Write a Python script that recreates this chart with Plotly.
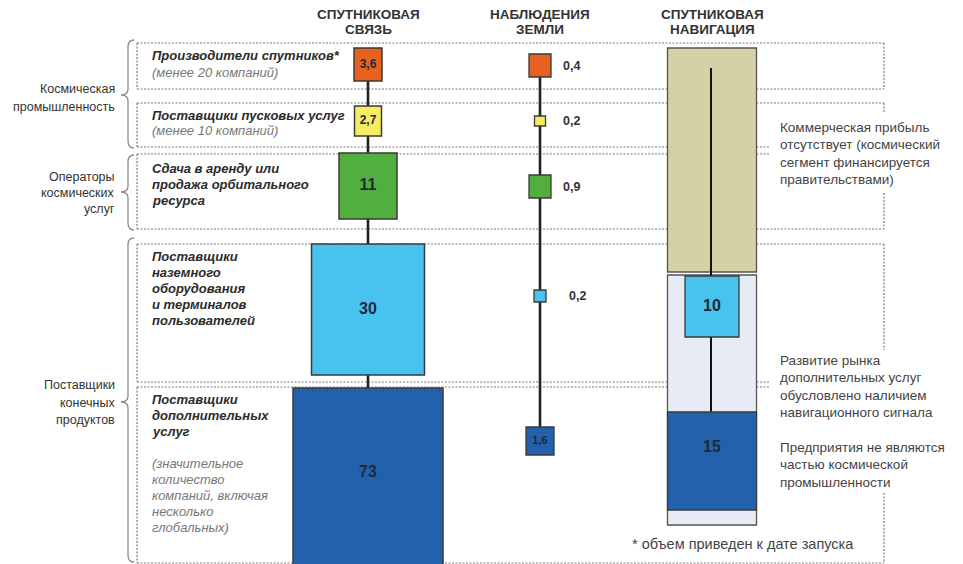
import plotly.graph_objects as go

# ---------------- data ----------------
columns = [["СПУТНИКОВАЯ", "СВЯЗЬ"], ["НАБЛЮДЕНИЯ", "ЗЕМЛИ"], ["СПУТНИКОВАЯ", "НАВИГАЦИЯ"]]
groups = [["Космическая", "промышленность"],
          ["Операторы", "космических", "услуг"],
          ["Поставщики", "конечных", "продуктов"]]
segments = [["Производители спутников*"],
            ["Поставщики пусковых услуг"],
            ["Сдача в аренду или", "продажа орбитального", "ресурса"],
            ["Поставщики", "наземного", "оборудования", "и терминалов", "пользователей"],
            ["Поставщики", "дополнительных", "услуг"]]
segment_notes = [["(менее 20 компаний)"],
                 ["(менее 10 компаний)"],
                 [],
                 [],
                 ["(значительное", "количество", "компаний, включая", "несколько", "глобальных)"]]
satcom = [3.6, 2.7, 11, 30, 73]
earth_obs = [0.4, 0.2, 0.9, 0.2, 1.6]
navigation = [None, None, None, 10, 15]
side_notes = [["Коммерческая прибыль", "отсутствует (космический", "сегмент финансируется", "правительствами)"],
              ["Развитие рынка", "дополнительных услуг", "обусловлено наличием", "навигационного сигнала"],
              ["Предприятия не являются", "частью космической", "промышленности"]]
footnote = "* объем приведен к дате запуска"

# ---------------- layout constants (pixel space) ----------------
W, H = 963, 564
col_x = [368, 540, 712]
seg_colors = ["#e8621f", "#f5ec62", "#52ae3f", "#48c2ef", "#2461ad"]
# (top, bottom, width) of each box
satcom_geom = [(48, 81, 28), (106, 136, 27), (153, 219, 58), (244, 375, 113), (388, 572, 150)]
eo_geom = [(54, 77, 22), (116, 126, 11), (175, 198, 22), (290, 302, 12), (427, 455, 28)]
nav_geom = [None, None, None, (276, 337, 54), (412, 510, 89)]
nav_bg = [((48, 272), "#d3d1a5"), ((275, 525), "#e6ebf4")]
nav_w = 89
row_frames = [(43, 89), (103, 147), (154, 229), (244, 382), (387, 563)]
F_L, F_R, F_CUT = 137, 884, 770
braces = [(40, 148, 95), (155, 230, 192), (238, 562, 402)]

FONT = "Liberation Sans, Arial, sans-serif"
NARROW = "Liberation Sans Narrow, Liberation Sans, Arial, sans-serif"

fig = go.Figure()
shapes = []
ann = []

def line(x0, y0, x1, y1, color, width, dash=None):
    d = dict(type="line", xref="x", yref="y", x0=x0, y0=y0, x1=x1, y1=y1,
             line=dict(color=color, width=width), layer="below")
    if dash:
        d["line"]["dash"] = dash
    shapes.append(d)

def rect(x0, y0, x1, y1, fill, lc="#3a3a3a", lw=1.5):
    shapes.append(dict(type="rect", xref="x", yref="y", x0=x0, y0=y0, x1=x1, y1=y1,
                       fillcolor=fill, line=dict(color=lc, width=lw), layer="below"))

def text_lines(lines, x, y0, dy, size, color, xanchor="left", bold=False, italic=False, family=FONT):
    for i, t in enumerate(lines):
        s = t
        if italic:
            s = "<i>" + s + "</i>"
        if bold:
            s = "<b>" + s + "</b>"
        ann.append(dict(x=x, y=y0 + i * dy, xref="x", yref="y", text=s, showarrow=False,
                        xanchor=xanchor, yanchor="middle", align=xanchor if xanchor != "center" else "center",
                        font=dict(family=family, size=size, color=color)))

# dashed row frames
DASH = "2px,1.5px"
DC = "#7d7d7d"
DW = 1.2
for i, (t, b) in enumerate(row_frames):
    line(F_L, t, F_L, b, DC, DW, DASH)
top_ext = [F_R, F_R, F_CUT, F_R, F_CUT]
bot_ext = [F_R, F_CUT, F_R, F_CUT, F_R]
right_stub = [(43, 89), (103, 112), (193, 229), (244, 350), (493, 563)]
for i, (t, b) in enumerate(row_frames):
    line(F_L, t, top_ext[i], t, DC, DW, DASH)
    line(F_L, b, bot_ext[i], b, DC, DW, DASH)
    line(F_R, right_stub[i][0], F_R, right_stub[i][1], DC, DW, DASH)

# braces
for (y0, y1, ym) in braces:
    xb, xe, xt = 128, 134, 121
    path = (f"M {xe},{y0} Q {xb},{y0} {xb},{y0+7} L {xb},{ym-6} Q {xb},{ym} {xt},{ym} "
            f"Q {xb},{ym} {xb},{ym+6} L {xb},{y1-7} Q {xb},{y1} {xe},{y1}")
    shapes.append(dict(type="path", xref="x", yref="y", path=path,
                       line=dict(color="#8a8a8a", width=1.3), layer="below"))

# navigation background blocks
cx3 = col_x[2]
for (t, b), c in nav_bg:
    rect(cx3 - nav_w / 2, t, cx3 + nav_w / 2, b, c, lc="#555555", lw=1.3)

# connecting vertical lines
line(col_x[0], satcom_geom[0][1], col_x[0], satcom_geom[-1][0], "#222222", 2.6)
line(col_x[1], eo_geom[0][1], col_x[1], eo_geom[-1][0], "#222222", 2.6)
line(cx3 - 1, 68, cx3 - 1, nav_geom[-1][0], "#111111", 2.0)

# value boxes
label_x, label_y, label_t, label_s = [], [], [], []
def fmt(v):
    return f"{v:g}".replace(".", ",")

for i, v in enumerate(satcom):
    t, b, w = satcom_geom[i]
    rect(col_x[0] - w / 2, t, col_x[0] + w / 2, b, seg_colors[i])
    yc = (t + b) / 2 if i < 4 else 473
    label_x.append(col_x[0]); label_y.append(yc); label_t.append(fmt(v))
    label_s.append(12 if v < 5 else 16)

eo_out_x = [561, 561, 561, 567, None]
for i, v in enumerate(earth_obs):
    t, b, w = eo_geom[i]
    rect(col_x[1] - w / 2, t, col_x[1] + w / 2, b, seg_colors[i], lw=1.3)
    if eo_out_x[i] is None:
        label_x.append(col_x[1]); label_y.append((t + b) / 2); label_t.append(fmt(v)); label_s.append(11)
    else:
        text_lines([fmt(v)], eo_out_x[i], (t + b) / 2, 0, 12.5, "#333333", bold=True, family=NARROW)

for i, v in enumerate(navigation):
    if v is None:
        continue
    t, b, w = nav_geom[i]
    rect(cx3 - w / 2, t, cx3 + w / 2, b, seg_colors[i], lw=1.3)
    yc = (t + b) / 2 if i == 3 else 448
    label_x.append(cx3); label_y.append(yc); label_t.append(fmt(v)); label_s.append(16)

fig.add_trace(go.Scatter(x=label_x, y=label_y, text=["<b>" + s + "</b>" for s in label_t],
                         mode="text", textposition="middle center",
                         textfont=dict(family=NARROW, size=label_s, color="#1e2a3a"),
                         hoverinfo="skip", showlegend=False))

# column headers
hdr_y = [14, 29]
for c, lines in zip(col_x, columns):
    text_lines(lines, c, hdr_y[0], 15, 13.5, "#333333", xanchor="center", bold=True)

# group labels
grp_pos = [(89, 18), (177, 16), (385, 17.5)]
for lines, (y0, dy) in zip(groups, grp_pos):
    text_lines(lines, 117, y0, dy, 12.5, "#333333", xanchor="right")

# segment labels
seg_pos = [55, 115, 168, 256, 399]
note_pos = [72, 130, None, None, 463]
for i in range(5):
    text_lines(segments[i], 150, seg_pos[i], 16, 13, "#2b2b2b", bold=True, italic=True)
    if segment_notes[i]:
        text_lines(segment_notes[i], 150, note_pos[i], 16, 13, "#777777", italic=True)

# side notes
side_pos = [127, 360, 447]
for lines, y0 in zip(side_notes, side_pos):
    text_lines(lines, 778, y0, 17.5, 13.5, "#444444")

text_lines([footnote], 630, 544, 0, 14.5, "#444444")

fig.update_layout(
    width=W, height=H, margin=dict(l=0, r=0, t=0, b=0),
    paper_bgcolor="white", plot_bgcolor="white",
    xaxis=dict(range=[0, W], visible=False, fixedrange=True),
    yaxis=dict(range=[H, 0], visible=False, fixedrange=True),
    shapes=shapes, annotations=ann, showlegend=False,
)
fig.write_html("out.html")
